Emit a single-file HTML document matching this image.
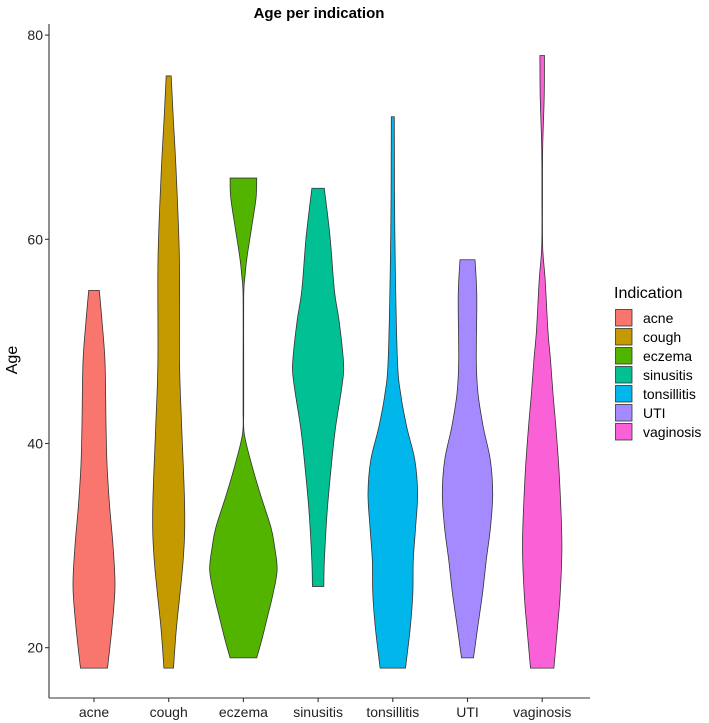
<!DOCTYPE html>
<html><head><meta charset="utf-8">
<style>
html,body{margin:0;padding:0;background:#fff;}
svg{display:block;font-family:"Liberation Sans",Arial,sans-serif;}
</style></head>
<body>
<svg id="chart" width="709" height="723" viewBox="0 0 709 723">
  <text x="319" y="18" text-anchor="middle" font-size="15" font-weight="bold" fill="#000">Age per indication</text>
  <text transform="translate(17,360) rotate(-90)" text-anchor="middle" font-size="16" fill="#000">Age</text>
  <g id="violins"></g>
  <g id="axes"></g>
  <g id="legend"></g>
</svg>
<script>
const categories = ["acne","cough","eczema","sinusitis","tonsillitis","UTI","vaginosis"];
const colors = ["#F8766D","#C49A00","#53B400","#00C094","#00B6EB","#A58AFF","#FB61D7"];
const yTicks = [20,40,60,80];
// density profiles: ages and half-widths (px)
const acneAges = [18,22,26,30,34,38,42,48,52,55];
const acneWidths = [13.5,18,21,19,15.5,13,12,11,8,5.3];
const coughAges = [18,22,28.6,33.5,41.6,48,58,66.5,72,76];
const coughWidths = [4.8,7.8,14.5,16,13,10.8,10.7,7.5,4.5,2.5];
const eczemaAges = [19,21,23.4,25,27.6,30,31.8,35.1,38.4,41,43.3,48,54.4,56.3,58.3,61.2,64.1,66];
const eczemaWidths = [13.3,19,25,29,33.7,31,27.5,16.7,7,0.8,0.3,0.3,0.3,1.5,3.7,8.3,12.7,13.3];
const sinusitisAges = [26,28.6,33.5,38.4,41.6,44.9,47,48.5,52,55,60.2,65];
const sinusitisWidths = [5.7,6.3,9.2,13.8,17.5,22.8,25.5,25,21,16.3,12,6.2];
const tonsillitisAges = [18,22,25.3,28.6,31.8,35.1,38.4,41.6,44.9,48.5,60.9,72];
const tonsillitisWidths = [12.7,17.5,20,20.5,22.8,24.8,22,14,7.8,4.5,2,1.5];
const utiAges = [19,22,25.3,28.6,31.8,35.1,38.4,41.6,44.9,48.2,54.4,58];
const utiWidths = [6,10.2,15,18.8,23,25.2,22.8,15.8,10.5,8.8,9.3,7.5];
const vaginosisAges = [18,22,25.3,30.2,36.7,41.6,44.9,48.2,51.1,56,59.2,64.1,69,73.9,78];
const vaginosisWidths = [11.7,15.3,18,19.7,17.2,13.7,10.8,8.3,5.7,3,0.5,0.3,0.5,2,2.3];
const profileAges = [acneAges,coughAges,eczemaAges,sinusitisAges,tonsillitisAges,utiAges,vaginosisAges];
const profileWidths = [acneWidths,coughWidths,eczemaWidths,sinusitisWidths,tonsillitisWidths,utiWidths,vaginosisWidths];

const NS = "http://www.w3.org/2000/svg";
const plotLeft = 49, plotRight = 590, axisY = 698, axisTop = 24;
function yScale(v){ return 647.7 - (v-20)*10.21; }
function xScale(i){ return 94 + i*74.7; }
function mk(tag, attrs, parent){ const e=document.createElementNS(NS,tag); for(const k in attrs) e.setAttribute(k,attrs[k]); parent.appendChild(e); return e; }

function smoothPts(pts){
  // catmull-rom to bezier
  let d = "";
  for(let i=0;i<pts.length-1;i++){
    const p0=pts[Math.max(0,i-1)], p1=pts[i], p2=pts[i+1], p3=pts[Math.min(pts.length-1,i+2)];
    const c1=[p1[0]+(p2[0]-p0[0])/6, p1[1]+(p2[1]-p0[1])/6];
    const c2=[p2[0]-(p3[0]-p1[0])/6, p2[1]-(p3[1]-p1[1])/6];
    d += ` C${c1[0].toFixed(2)},${c1[1].toFixed(2)} ${c2[0].toFixed(2)},${c2[1].toFixed(2)} ${p2[0].toFixed(2)},${p2[1].toFixed(2)}`;
  }
  return d;
}

const vg = document.getElementById("violins");
categories.forEach((c,i)=>{
  const cx = xScale(i), ages = profileAges[i], ws = profileWidths[i];
  const right = ages.map((a,k)=>[cx+ws[k], yScale(a)]);
  const left = ages.map((a,k)=>[cx-ws[k], yScale(a)]).reverse();
  let d = `M${right[0][0]},${right[0][1]}` + smoothPts(right) + ` L${left[0][0]},${left[0][1]}` + smoothPts(left) + " Z";
  const p = mk("path",{d:d, fill:colors[i], stroke:"#333", "stroke-width":"0.8"}, vg);
  
  
});

const ax = document.getElementById("axes");
const yl = mk("line",{x1:plotLeft,y1:axisTop,x2:plotLeft,y2:axisY,stroke:"#333","stroke-width":"1.1"},ax);


const xl = mk("line",{x1:plotLeft,y1:axisY,x2:plotRight,y2:axisY,stroke:"#333","stroke-width":"1.1"},ax);


yTicks.forEach(t=>{
  const y = yScale(t);
  const tk = mk("line",{x1:plotLeft-4,y1:y,x2:plotLeft,y2:y,stroke:"#333","stroke-width":"1.1"},ax);
  
  
  const tx = mk("text",{x:plotLeft-6,y:y+5,"text-anchor":"end","font-size":"14",fill:"#222"},ax);
  tx.textContent = t;
  
  
});
categories.forEach((c,i)=>{
  const x = xScale(i);
  const tk = mk("line",{x1:x,y1:axisY,x2:x,y2:axisY+4,stroke:"#333","stroke-width":"1.1"},ax);
  
  
  const tx = mk("text",{x:x,y:axisY+19,"text-anchor":"middle","font-size":"14",fill:"#222"},ax);
  tx.textContent = c;
  
  
});

const lg = document.getElementById("legend");
const lt = mk("text",{x:614,y:298,"font-size":"16",fill:"#000"},lg);
lt.textContent = "Indication";


categories.forEach((c,i)=>{
  const y = 309 + i*19;
  const r = mk("rect",{x:615.5,y:y+0.5,width:16.5,height:16.5,fill:colors[i],stroke:"#333","stroke-width":"0.8"},lg);
  
  
  const t = mk("text",{x:643,y:y+14,"font-size":"14",fill:"#000"},lg);
  t.textContent = c;
  
  
});
</script>
</body></html>
